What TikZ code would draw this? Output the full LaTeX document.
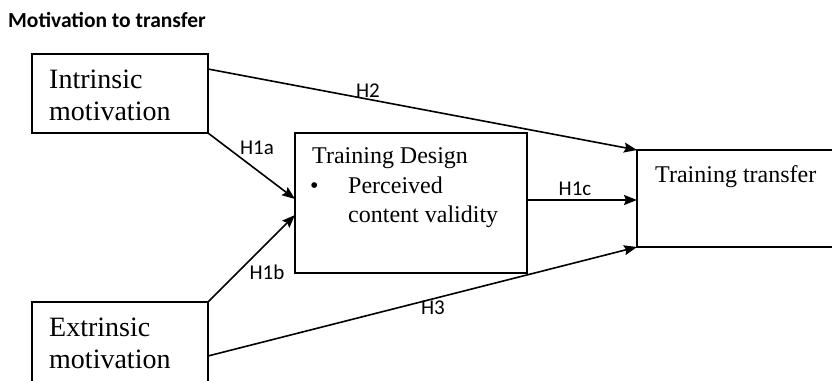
\documentclass[tikz,border=0pt]{standalone}
\usepackage{fontspec}
\setmainfont{Liberation Serif}
\newfontfamily\lblfont{Carlito}
\usetikzlibrary{arrows.meta,calc}
\begin{document}
\begin{tikzpicture}[x=1pt,y=-1pt,
  box/.style={draw, line width=1.2pt, inner sep=0pt, outer sep=0pt},
  conn/.style={line width=1.6pt, -{Stealth[length=13pt,width=10pt,inset=2pt]}},
  bigtxt/.style={anchor=base west, inner sep=0pt, font=\fontsize{28}{32}\selectfont},
  medtxt/.style={anchor=base west, inner sep=0pt, font=\fontsize{24}{29}\selectfont},
  hlbl/.style={inner sep=0pt, font=\lblfont\fontsize{21}{23}\selectfont}]
\useasboundingbox (0,0) rectangle (832,380);
\clip (0,0) rectangle (832,380);
% title
\node[anchor=west, inner sep=0pt, font=\lblfont\bfseries\fontsize{21.5}{24}\selectfont] (title) at (8,20) {Motivation to transfer};
% boxes
\node[box, minimum width=176pt, minimum height=79pt] (intr) at (120,93.5) {};
\node[box, minimum width=176pt, minimum height=118pt] (extr) at (120,361) {};
\node[box, minimum width=232pt, minimum height=140pt] (td) at (411,203) {};
\node[box, minimum width=263pt, minimum height=97pt] (tt) at (768.5,198.5) {};
% texts
\node[bigtxt] (t1) at (49,88) {Intrinsic};
\node[bigtxt] (t2) at (49,120) {motivation};
\node[bigtxt] (t3) at (49,336) {Extrinsic};
\node[bigtxt] (t4) at (49,368) {motivation};
\node[medtxt] (t5) at (312,163) {Training Design};
\node[medtxt] (t6) at (310,193) {\textbullet};
\node[medtxt] (t7) at (348,193) {Perceived};
\node[medtxt] (t8) at (348,222) {content validity};
\node[medtxt] (t9) at (655,182) {Training transfer};
% connector end points
\coordinate (a2s) at ($(intr.north east)+(0,15)$);
\coordinate (tdin1) at ($(td.west)+(0,-4)$);
\coordinate (tdin2) at ($(td.west)+(0,12)$);
\coordinate (tdout) at ($(td.east)+(0,-3)$);
\coordinate (ttin) at ($(tt.west)+(0,1.5)$);
\coordinate (a3s) at ($(extr.north east)+(0,54)$);
% connectors
\draw[conn] (a2s) -- (tt.north west);
\draw[conn] (intr.south east) -- (tdin1);
\draw[conn] (extr.north east) -- (tdin2);
\draw[conn] (tdout) -- (ttin);
\draw[conn] (a3s) -- (tt.south west);
% labels
\node[hlbl] (h2) at (368,91) {H2};
\node[hlbl] (h1a) at (257,148) {H1a};
\node[hlbl] (h1b) at (267,272) {H1b};
\node[hlbl] (h1c) at (575,189) {H1c};
\node[hlbl] (h3) at (433,308) {H3};
\end{tikzpicture}
\end{document}
